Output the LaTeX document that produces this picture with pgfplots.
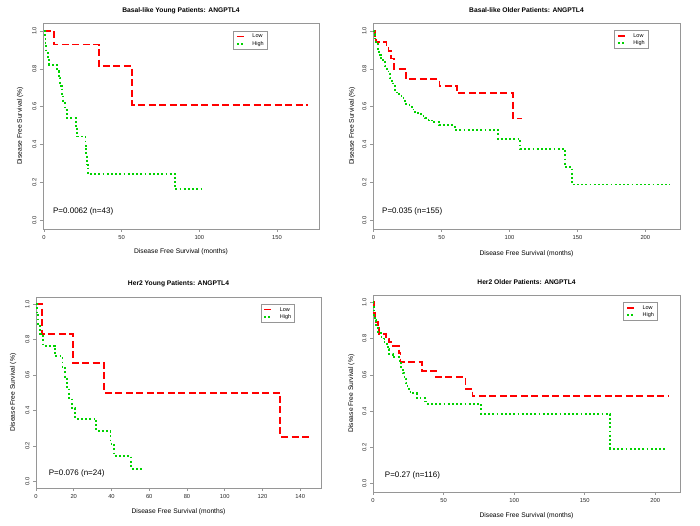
\documentclass[border=0pt]{standalone}
\usepackage{fontspec}
\setmainfont{Liberation Sans}
\usepackage{pgfplots}
\pgfplotsset{compat=1.18}

\definecolor{kmred}{RGB}{255,0,0}
\definecolor{kmgreen}{RGB}{0,210,0}
\definecolor{boxgray}{RGB}{150,150,150}

\tikzset{pval/.style={font=\fontsize{8}{9}\selectfont, anchor=west, inner sep=0pt}}

\pgfplotsset{
  every axis title shift=0pt,
  km/.style={
    scale only axis,
    axis line style={boxgray, line width=0.6pt},
    tick style={boxgray, line width=0.6pt},
    tick align=outside,
    major tick length=3pt,
    xtick pos=bottom, ytick pos=left,
    ymin=-0.045, ymax=1.042,
    ytick={0,0.2,0.4,0.6,0.8,1},
    /pgf/number format/assume math mode=true,
    tick label style={font=\fontsize{5.8}{6}\selectfont, text=black!85},
    yticklabel style={rotate=90, anchor=south, /pgf/number format/.cd, fixed, fixed zerofill, precision=1},
    xlabel={Disease Free Survival (months)},
    ylabel={Disease Free Survival (\%)},
    label style={font=\fontsize{6.7}{7}\selectfont},
    title style={font=\bfseries\fontsize{6.7}{7}\selectfont},
    legend style={draw=boxgray, line width=0.5pt, font=\fontsize{5.5}{6}\selectfont,
      anchor=north east, inner xsep=2.5pt, inner ysep=2.5pt, row sep=1pt,
      nodes={inner sep=0.6pt, text height=4pt, text depth=1pt}, cells={anchor=west}},
    legend image code/.code={\draw[#1] (0pt,0pt) -- (8pt,0pt);
      \path[draw=none, fill=none] (0pt,0pt) -- (15pt,0pt);},
  },
  low/.style={kmred, line width=1.8pt, dash pattern=on 7pt off 3.5pt, const plot},
  high/.style={kmgreen, line width=1.8pt, dash pattern=on 1.8pt off 2.4pt, const plot},
}

\begin{document}
\begin{tikzpicture}
\path[use as bounding box] (0pt,0pt) rectangle (700pt,526pt);

% Basal-like young
\begin{axis}[km, at={(43pt,297pt)}, anchor=south west, width=276pt, height=206pt,
  xmin=-0.6, xmax=177, xtick={0,50,100,150},
  title={Basal-like Young Patients: ANGPTL4},
  title style={at={(axis description cs:0.5,1.051)}, anchor=base},
  xlabel style={at={(axis description cs:0.5,-0.112)}, anchor=center},
  ylabel style={at={(axis description cs:-0.083,0.5)}, anchor=center},
  legend style={at={(rel axis cs:0.812,0.963)}}]
\addplot[low] coordinates {(0,1)(6.6,0.929)(35.6,0.813)(56.8,0.61)(170,0.61)};
\addlegendentry{Low}
\addplot[high] coordinates {(0,1)(0.5,0.966)(1,0.931)(1.5,0.897)(2.5,0.862)(3.5,0.822)
  (8.5,0.787)(9.5,0.75)(10.5,0.71)(11.5,0.667)(12.5,0.624)(13.5,0.582)(14.6,0.541)
  (20.5,0.492)(21.5,0.443)(26.8,0.394)(27.3,0.345)(27.8,0.295)(28.3,0.246)
  (84.5,0.164)(101.5,0.164)};
\addlegendentry{High}
\node[pval] at (axis cs:5.8,0.05) {P=0.0062 (n=43)};
\end{axis}

% Basal-like older
\begin{axis}[km, at={(373pt,297pt)}, anchor=south west, width=307pt, height=206pt,
  xmin=-0.4, xmax=225.5, xtick={0,50,100,150,200},
  title={Basal-like Older Patients: ANGPTL4},
  title style={at={(axis description cs:0.5,1.051)}, anchor=base},
  xlabel style={at={(axis description cs:0.5,-0.118)}, anchor=center},
  ylabel style={at={(axis description cs:-0.068,0.5)}, anchor=center},
  legend style={at={(rel axis cs:0.896,0.966)}}]
\addplot[low] coordinates {(0,1)(1,0.97)(2,0.94)(9.5,0.92)(11,0.895)(13,0.855)(15,0.80)
  (24,0.745)(48.5,0.71)(61.5,0.672)(102.5,0.538)(109,0.538)};
\addlegendentry{Low}
\addplot[high] coordinates {(0,1)(0.3,0.985)(1,0.96)(2,0.93)(3,0.9)(4,0.875)(5.5,0.855)
  (7,0.835)(8.5,0.815)(10,0.795)(11,0.775)(12,0.75)(13.5,0.73)(14.5,0.71)(16,0.69)
  (17,0.675)(19,0.66)(20.5,0.645)(22,0.63)(24,0.615)(26.5,0.6)(28.5,0.585)(30.5,0.572)
  (33,0.56)(35,0.55)(38,0.54)(40.5,0.528)(44,0.518)(48,0.502)(60,0.478)(91.5,0.43)
  (108,0.377)(141,0.283)(146,0.19)(218,0.19)};
\addlegendentry{High}
\node[pval] at (axis cs:6.2,0.05) {P=0.035 (n=155)};
\end{axis}

% Her2 young
\begin{axis}[km, at={(36pt,38pt)}, anchor=south west, width=285pt, height=191pt,
  xmin=0, xmax=151, xtick={0,20,40,60,80,100,120,140},
  ymin=-0.038, ymax=1.04,
  title={Her2 Young Patients: ANGPTL4},
  title style={at={(axis description cs:0.5,1.059)}, anchor=base},
  xlabel style={at={(axis description cs:0.5,-0.127)}, anchor=center},
  ylabel style={at={(axis description cs:-0.08,0.5)}, anchor=center},
  legend style={at={(rel axis cs:0.907,0.965)}}]
\addplot[low] coordinates {(0,1)(3.2,0.833)(19.4,0.667)(36.2,0.5)(129.4,0.25)(145.3,0.25)};
\addlegendentry{Low}
\addplot[high] coordinates {(0,1)(0.5,0.944)(1.2,0.889)(2.3,0.833)(3.5,0.765)(10,0.706)
  (14,0.647)(15.5,0.588)(16.5,0.529)(17.5,0.471)(18.9,0.412)(20.7,0.353)(32,0.282)
  (39.5,0.212)(41.5,0.141)(50.5,0.071)(56.6,0.071)};
\addlegendentry{High}
\node[pval] at (axis cs:6.7,0.047) {P=0.076 (n=24)};
\end{axis}

% Her2 older
\begin{axis}[km, at={(373pt,34pt)}, anchor=south west, width=307pt, height=197pt,
  xmin=0, xmax=217.5, xtick={0,50,100,150,200},
  ymin=-0.046, ymax=1.04,
  title={Her2 Older Patients: ANGPTL4},
  title style={at={(axis description cs:0.5,1.054)}, anchor=base},
  xlabel style={at={(axis description cs:0.5,-0.122)}, anchor=center},
  ylabel style={at={(axis description cs:-0.07,0.5)}, anchor=center},
  legend style={at={(rel axis cs:0.926,0.964)}}]
\addplot[low] coordinates {(0,1)(0.7,0.94)(1.5,0.91)(2.1,0.89)(3.3,0.856)(4.5,0.823)
  (9.2,0.80)(11.6,0.78)(13,0.76)(18.5,0.72)(19.5,0.672)(34.5,0.62)(44.5,0.589)
  (65.5,0.521)(70.5,0.484)(210,0.484)};
\addlegendentry{Low}
\addplot[high] coordinates {(0,1)(0.3,0.976)(0.7,0.93)(1.5,0.9)(2.1,0.875)(3.3,0.83)
  (6,0.8)(8.1,0.77)(10.5,0.742)(11.6,0.714)(14,0.696)(18.7,0.672)(20,0.64)(21.1,0.608)
  (22.3,0.58)(23.4,0.553)(24.5,0.53)(25.7,0.507)(28.5,0.498)(31,0.47)(37,0.453)
  (38.7,0.44)(76.5,0.385)(168,0.193)(207.6,0.193)};
\addlegendentry{High}
\node[pval] at (axis cs:8.3,0.048) {P=0.27 (n=116)};
\end{axis}
\end{tikzpicture}
\end{document}
